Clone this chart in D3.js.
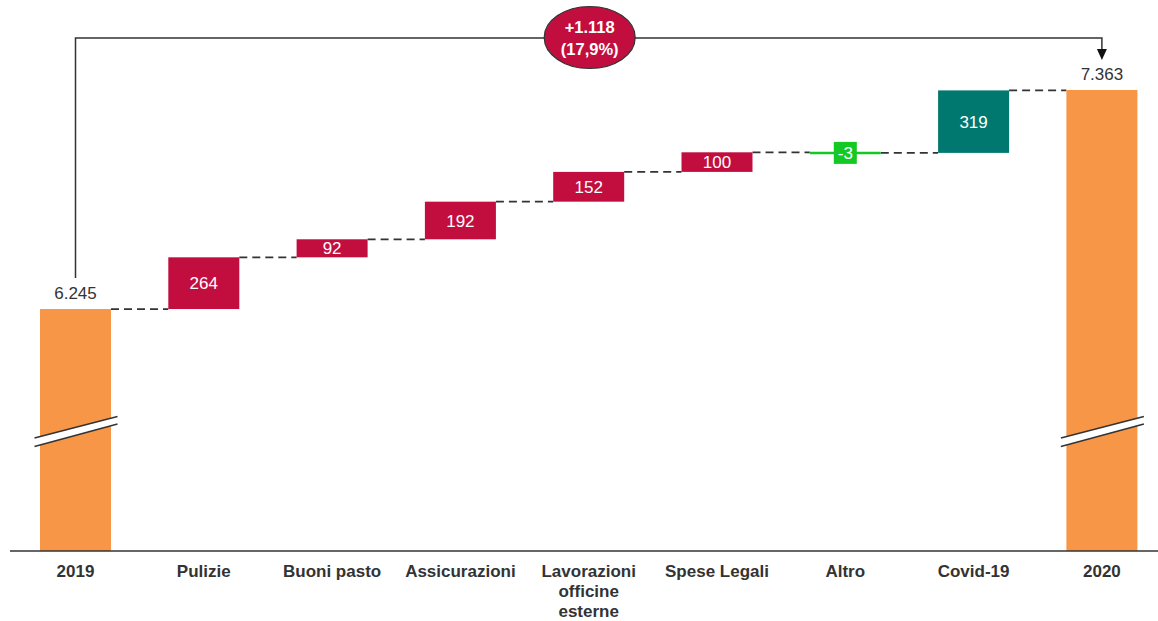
<!DOCTYPE html>
<html><head><meta charset="utf-8">
<script src="https://cdn.jsdelivr.net/npm/d3@7"></script>
<style>
html,body{margin:0;padding:0;background:#fff;}
svg{display:block;font-family:"Liberation Sans",Arial,sans-serif;}
</style></head>
<body><svg id="c" width="1158" height="621"></svg>
<script>
// ---- data ----
const categories = ["2019","Pulizie","Buoni pasto","Assicurazioni","Lavorazioni officine esterne","Spese Legali","Altro","Covid-19","2020"];
const labelLines = [["2019"],["Pulizie"],["Buoni pasto"],["Assicurazioni"],["Lavorazioni","officine","esterne"],["Spese Legali"],["Altro"],["Covid-19"],["2020"]];
const totals = {"2019": 6245, "2020": 7363};
const deltas = [264, 92, 192, 152, 100, -3, 319];
const deltaKinds = ["cost","cost","cost","cost","cost","other","covid"];
const totalLabels = ["6.245","7.363"];
const deltaLabels = ["264","92","192","152","100","-3","319"];
const bracketLabel = ["+1.118","(17,9%)"];
const axisMin = 5010, axisMax = 7363, breakValue = 5620;

const colors = {total:"#f79646", cost:"#c20e3e", other:"#14c924", covid:"#00786f", ink:"#333333"};

const svg = d3.select("#c");
const x = d3.scaleBand().domain(categories).range([40, 1137.4]).paddingInner(0.4466).paddingOuter(0);
const y = d3.scaleLinear().domain([axisMin, axisMax]).range([551, 90]);
const bw = x.bandwidth();

// build rows
const rows = [];
let run = totals["2019"];
rows.push({cat:categories[0], kind:"total", start:axisMin, end:totals["2019"], label:totalLabels[0]});
deltas.forEach((d,i)=>{
  rows.push({cat:categories[i+1], kind:deltaKinds[i], start:run, end:run+d, label:deltaLabels[i]});
  run += d;
});
rows.push({cat:categories[8], kind:"total", start:axisMin, end:totals["2020"], label:totalLabels[1]});

// connectors
for(let i=0;i<rows.length-1;i++){
  const yy = y(rows[i].end);
  svg.append("line")
    .attr("x1", x(rows[i].cat)+bw).attr("x2", x(rows[i+1].cat))
    .attr("y1", yy).attr("y2", yy)
    .attr("stroke", colors.ink).attr("stroke-width",1.8).attr("stroke-dasharray","8,5");
}

// bars
rows.forEach(r=>{
  if(r.kind==="other"){
    const yy = y(r.end);
    svg.append("line").attr("x1",x(r.cat)).attr("x2",x(r.cat)+bw).attr("y1",yy).attr("y2",yy)
      .attr("stroke",colors.other).attr("stroke-width",2.5);
    const cx = x(r.cat)+bw/2;
    svg.append("rect").attr("x",cx-11.5).attr("y",yy-11).attr("width",23).attr("height",22).attr("fill",colors.other);
    svg.append("text").attr("x",cx).attr("y",yy).attr("dy","0.36em").attr("text-anchor","middle")
      .attr("fill","#fff").attr("font-size",17).text(r.label);
    return;
  }
  const top = y(Math.max(r.start,r.end)), bot = y(Math.min(r.start,r.end));
  svg.append("rect").attr("x",x(r.cat)).attr("y",top).attr("width",bw).attr("height",bot-top)
    .attr("fill", colors[r.kind]);
  if(r.kind==="total"){
    svg.append("text").attr("x",x(r.cat)+bw/2).attr("y",top-10).attr("text-anchor","middle")
      .attr("fill",colors.ink).attr("font-size",17).text(r.label);
    // break marker
    const cx = x(r.cat)+bw/2, yb = y(breakValue);
    const x0 = cx-41, x1 = cx+42;
    svg.append("path").attr("d",`M${x0},${yb+6.5}L${x1},${yb-15}L${x1},${yb-7.5}L${x0},${yb+15}Z`).attr("fill","#fff");
    svg.append("line").attr("x1",x0).attr("y1",yb+6.5).attr("x2",x1).attr("y2",yb-15).attr("stroke",colors.ink).attr("stroke-width",1.5);
    svg.append("line").attr("x1",x0).attr("y1",yb+15).attr("x2",x1).attr("y2",yb-7.5).attr("stroke",colors.ink).attr("stroke-width",1.5);
  } else {
    svg.append("text").attr("x",x(r.cat)+bw/2).attr("y",(top+bot)/2).attr("dy","0.36em").attr("text-anchor","middle")
      .attr("fill","#fff").attr("font-size",17).text(r.label);
  }
});

// axis baseline
svg.append("line").attr("x1",10).attr("x2",1158).attr("y1",y(axisMin)).attr("y2",y(axisMin))
  .attr("stroke",colors.ink).attr("stroke-width",1.5);

// category labels
labelLines.forEach((lines,i)=>{
  const t = svg.append("text").attr("x",x(categories[i])+bw/2).attr("y",577).attr("text-anchor","middle")
    .attr("font-weight","bold").attr("font-size",17).attr("fill",colors.ink);
  lines.forEach((ln,j)=>t.append("tspan").attr("x",x(categories[i])+bw/2).attr("dy", j===0?0:20).text(ln));
});

// bracket
const bx0 = x(categories[0])+bw/2, bx1 = x(categories[8])+bw/2, by = 38;
svg.append("path").attr("d",`M${bx0},${y(totals["2019"])-31}V${by}H${bx1}V${y(totals["2020"])-40}`)
  .attr("fill","none").attr("stroke",colors.ink).attr("stroke-width",1.5);
const tipY = y(totals["2020"])-30;
svg.append("path").attr("d",`M${bx1-5},${tipY-11}L${bx1+5},${tipY-11}L${bx1},${tipY}Z`).attr("fill","#111");
const ecx = (x(categories[4])+bw/2);
svg.append("ellipse").attr("cx",ecx+1).attr("cy",37.5).attr("rx",45.5).attr("ry",31)
  .attr("fill",colors.cost).attr("stroke",colors.ink).attr("stroke-width",1.2);
svg.append("text").attr("x",ecx+1).attr("y",33).attr("text-anchor","middle").attr("fill","#fff")
  .attr("font-weight","bold").attr("font-size",16.5).text(bracketLabel[0]);
svg.append("text").attr("x",ecx+1).attr("y",54.5).attr("text-anchor","middle").attr("fill","#fff")
  .attr("font-weight","bold").attr("font-size",16.5).text(bracketLabel[1]);
</script></body></html>
